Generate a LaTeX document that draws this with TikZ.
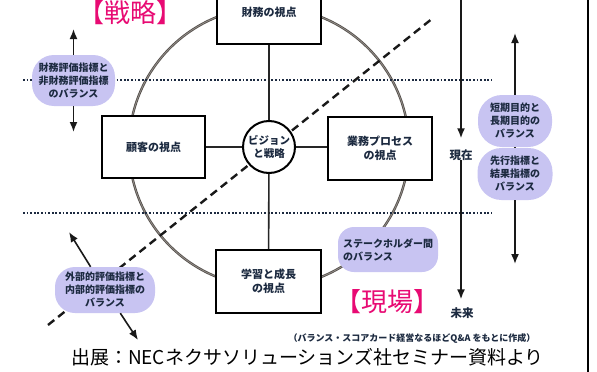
\documentclass[tikz,border=0pt]{standalone}
\usepackage{fontspec}
\newfontfamily\jp{Noto Sans CJK JP}
\usetikzlibrary{arrows.meta}
\definecolor{ink}{RGB}{28,42,64}
\definecolor{bub}{RGB}{200,196,242}
\definecolor{redA}{RGB}{232,10,115}
\definecolor{ring}{RGB}{85,80,76}
\definecolor{ringlight}{RGB}{150,145,140}
\tikzset{
 box/.style={draw=black,line width=2pt,fill=white,minimum width=104pt,minimum height=63pt,inner sep=0pt,font=\jp\bfseries\fontsize{11}{14}\selectfont,text=ink,align=center},
 bubble/.style={fill=bub,rounded corners=18pt,inner sep=0pt,font=\jp\bfseries\fontsize{10}{13}\selectfont,text=ink,align=center},
 conn/.style={line width=1.6pt,draw=black!85},
 arr/.style={line width=1.6pt,draw=black!90,-{Latex[length=10pt,width=8pt]}},
 dotline/.style={line width=2pt,dash pattern=on 1.8pt off 1.8pt,draw=ink},
 dashline/.style={line width=2.4pt,dash pattern=on 8pt off 5pt,draw=black!90},
 lbl/.style={font=\jp\bfseries\fontsize{11.5}{13}\selectfont,text=ink,inner sep=1pt},
 bigred/.style={font=\jp\fontsize{26}{28}\selectfont,text=redA,inner sep=0pt},
}
\begin{document}
\begin{tikzpicture}[x=1pt,y=-1pt]
\useasboundingbox (0,0) rectangle (597,372);
\clip (0,0) rectangle (597,372);
\fill[white] (0,0) rectangle (597,372);
% ring
\draw[ring,line width=2.4pt] (269,147) circle[radius=140];
\draw[ringlight,line width=0.7pt] (269,147) circle[radius=140];
% dotted lines
\coordinate (p1) at (23,80); \coordinate (p2) at (492,80);
\coordinate (p3) at (23,213); \coordinate (p4) at (492,213);
\draw[dotline] (p1) -- (p2);
\draw[dotline] (p3) -- (p4);
% dashed diagonal
\coordinate (d1) at (48,325); \coordinate (d2) at (433,18);
\draw[dashline] (d1) -- (d2);
% right frame line
\draw[line width=1.5pt] (588,-2) -- (588,374);
% boxes
\node[box] (zaimu) at (269,12.5) {財務の視点};
\node[box,minimum width=103pt,minimum height=62pt] (kokyaku) at (153.5,147) {顧客の視点};
\node[box] (gyomu) at (380,148) {業務プロセス\\の視点};
\node[box,minimum width=105pt] (gaku) at (268.5,281.5) {学習と成長\\の視点};
\node[circle,draw=black,line width=2pt,fill=white,minimum size=52pt,inner sep=0pt,font=\jp\bfseries\fontsize{10.5}{13}\selectfont,text=ink,align=center] (v) at (269,147) {ビジョン\\と戦略};
\draw[conn] (zaimu) -- (v);
\draw[conn] (v) -- (gaku);
\draw[conn] (kokyaku.east) -- (v.west);
\draw[conn] (v.east) -- (v.east -| gyomu.west);
% time axis
\coordinate (ttop) at (461,-5);
\node[lbl] (gz) at (461,155) {現在};
\node[lbl] (mr) at (462,313) {未来};
\draw[arr,shorten >=10pt] (ttop) -- (gz.north);
\draw[arr,shorten >=7pt,shorten <=-2pt] (gz.south) -- (gz.south |- mr.north);
% bubbles
\node[bubble,minimum width=83pt,minimum height=51pt,rounded corners=22pt] (b1) at (73.5,80.5) {財務評価指標と\\非財務評価指標\\のバランス};
\node[bubble,minimum width=74pt,minimum height=52pt,rounded corners=24pt] (b2) at (515,121) {短期目的と\\長期目的の\\バランス};
\node[bubble,minimum width=75pt,minimum height=52pt,rounded corners=24pt] (b3) at (515,174) {先行指標と\\結果指標の\\バランス};
\node[bubble,minimum width=100pt,minimum height=46pt,rounded corners=20pt] (b4) at (105,290) {外部的評価指標と\\内部的評価指標の\\バランス};
\node[bubble,minimum width=100pt,minimum height=45pt,rounded corners=16pt,align=left] (b5) at (388,249.5) {ステークホルダー間\\のバランス};
% bubble arrows
\coordinate (t1) at (73.5,29); \coordinate (t2) at (73.5,132);
\draw[arr] (b1.north) -- (t1);
\draw[arr] (b1.south) -- (t2);
\coordinate (t3) at (515,33); \coordinate (t4) at (515,264);
\draw[arr] (b2.north) -- (t3);
\draw[conn] (b2.south) -- (b3.north);
\draw[arr] (b3.south) -- (t4);
\coordinate (t5) at (69,232); \coordinate (t6) at (138,340);
\draw[arr] (b4) -- (t5);
\draw[arr] (b4) -- (t6);
% big red labels
\node[bigred] (senryaku) at (130,12.5) {【戦略】};
\node[bigred] (genba) at (387,302) {【現場】};
% notes
\node[font=\jp\bfseries\fontsize{9}{10}\selectfont,text=ink,inner sep=0pt] (note) at (412,339) {（バランス・スコアカード経営なるほどQ\&A をもとに作成）};
\node[font=\jp\fontsize{19}{21}\selectfont,inner sep=0pt] (cap) at (307.5,357) {出展：NECネクサソリューションズ社セミナー資料より};
\end{tikzpicture}
\end{document}
